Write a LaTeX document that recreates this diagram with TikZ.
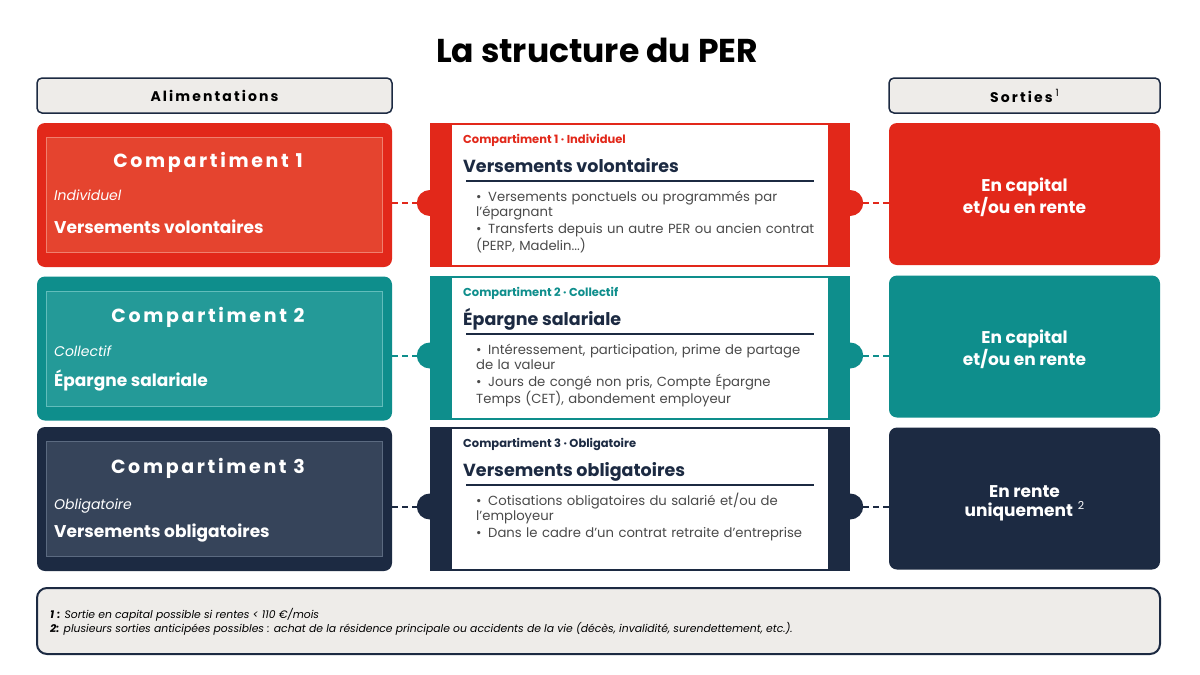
\documentclass[tikz,border=0pt]{standalone}
\usepackage{fontspec}
\setmainfont{Poppins}
\usepackage{xcolor}
\definecolor{perred}{HTML}{E2281A}
\definecolor{perredin}{HTML}{E5442F}
\definecolor{perredln}{HTML}{F0806F}
\definecolor{perteal}{HTML}{0E8E8C}
\definecolor{pertealin}{HTML}{249A98}
\definecolor{pertealln}{HTML}{62BDBB}
\definecolor{pernavy}{HTML}{1C2A42}
\definecolor{pernavyin}{HTML}{36445A}
\definecolor{pernavyln}{HTML}{5B6A80}
\definecolor{pergray}{HTML}{EEECE9}
\definecolor{pertext}{HTML}{4A4A4A}
\tikzset{
  hd/.style={draw=pernavy,line width=1.5pt,fill=pergray,rounded corners=5pt,minimum width=355pt,minimum height=35pt,
    font=\fontsize{14}{16}\selectfont\bfseries\addfontfeature{LetterSpace=15}},
  lbox/.style={rounded corners=8pt,minimum width=355pt,minimum height=144pt},
  ibox/.style={line width=1pt,minimum width=336pt,minimum height=115pt},
  ltitle/.style={anchor=base,text=white,font=\fontsize{19}{22}\selectfont\bfseries\addfontfeature{LetterSpace=14}},
  lsub/.style={anchor=base west,inner sep=0pt,text=white,font=\fontsize{14}{16}\selectfont\itshape},
  lmain/.style={anchor=base west,inner sep=0pt,text=white,font=\fontsize{17}{20}\selectfont\bfseries},
  card/.style={minimum width=420pt,minimum height=144pt},
  cin/.style={fill=white,minimum width=376pt,minimum height=140pt},
  bump/.style={circle,minimum size=26pt,inner sep=0pt},
  chead/.style={anchor=base west,inner sep=0pt,font=\fontsize{11.5}{14}\selectfont\bfseries},
  ctitle/.style={anchor=base west,inner sep=0pt,text=pernavy,font=\fontsize{17.5}{22}\selectfont\bfseries},
  crule/.style={draw=pernavy,line width=1.2pt},
  clist/.style={anchor=base west,inner sep=0pt,text width=350pt,text=pertext,font=\fontsize{13.2}{15.2}\selectfont},
  rbox/.style={rounded corners=8pt,minimum width=271pt,minimum height=142pt},
  rtext/.style={text=white,align=center,font=\fontsize{17}{19.5}\selectfont\bfseries},
  lnk/.style={dash pattern=on 6pt off 4pt,line width=2pt}
}
\newcommand{\bul}[1]{\par\noindent\hangindent=12pt\hangafter=1\makebox[12pt][l]{\textbullet}#1}

\begin{document}
\begin{tikzpicture}[x=1pt,y=-1pt]
\useasboundingbox[fill=white] (0,0) rectangle (1200,675);
\node[font=\fontsize{33}{38}\selectfont\bfseries] (title) at (597,50) {La structure du PER};

% headers
\node[hd] (alim) at (214.5,95.5) {Alimentations};
\node[hd,minimum width=271pt] (sort) at (1024.5,95.5) {Sorties\hspace{3pt}\raisebox{6pt}{\addfontfeature{LetterSpace=0}\fontsize{10}{10}\selectfont\mdseries 1}};

% row 1
\node[lbox,fill=perred] (in1) at (214.5,195) {};
\node[ibox,fill=perredin,draw=perredln] (in1i) at (in1) {};
\node[ltitle] (in1t) at (208,167) {Compartiment 1};
\node[lsub] (in1s) at (54,200) {Individuel};
\node[lmain] (in1m) at (54,233) {Versements volontaires};

\node[card,fill=perred] (card1) at (640,195) {};
\node[cin] (card1w) at (card1) {};
\node[bump,fill=perred] (b1l) at ([yshift=-8pt]card1.west) {};
\node[bump,fill=perred] (b1r) at ([yshift=-8pt]card1.east) {};
\node[chead,text=perred] (card1h) at (463,143) {Compartiment 1 · Individuel};
\node[ctitle] (card1t) at (463,172) {Versements volontaires};
\draw[crule] (466,181) -- (814,181);
\node[clist] (card1l) at (476,185) {\setlength{\parskip}{1.5pt}%
  \bul{Versements ponctuels ou programmés par\\l'épargnant}
  \bul{Transferts depuis un autre PER ou ancien contrat\\(PERP, Madelin...)}};

\node[rbox,fill=perred] (out1) at (1024.5,194) {};
\node[rtext] (out1t) at ([yshift=-3pt]out1.center) {En capital\\et/ou en rente};
\draw[lnk,draw=perred] (in1.east |- b1l) -- (b1l.west);
\draw[lnk,draw=perred] (b1r.east) -- (out1.west |- b1r);

% row 2
\node[lbox,fill=perteal] (in2) at (214.5,348.5) {};
\node[ibox,fill=pertealin,draw=pertealln] (in2i) at (in2) {};
\node[ltitle] (in2t) at (208,322) {Compartiment 2};
\node[lsub] (in2s) at (54,356) {Collectif};
\node[lmain] (in2m) at (54,386) {Épargne salariale};

\node[card,fill=perteal] (card2) at (640,347.5) {};
\node[cin] (card2w) at (card2) {};
\node[bump,fill=perteal] (b2l) at ([yshift=-8pt]card2.west) {};
\node[bump,fill=perteal] (b2r) at ([yshift=-8pt]card2.east) {};
\node[chead,text=perteal] (card2h) at (463,296) {Compartiment 2 · Collectif};
\node[ctitle] (card2t) at (463,325) {Épargne salariale};
\draw[crule] (466,334) -- (814,334);
\node[clist] (card2l) at (476,338) {\setlength{\parskip}{1.5pt}%
  \bul{Intéressement, participation, prime de partage\\de la valeur}
  \bul{Jours de congé non pris, Compte Épargne\\Temps (CET), abondement employeur}};

\node[rbox,fill=perteal] (out2) at (1024.5,346.5) {};
\node[rtext] (out2t) at ([yshift=-3pt]out2.center) {En capital\\et/ou en rente};
\draw[lnk,draw=perteal] (in2.east |- b2l) -- (b2l.west);
\draw[lnk,draw=perteal] (b2r.east) -- (out2.west |- b2r);

% row 3
\node[lbox,fill=pernavy] (in3) at (214.5,499) {};
\node[ibox,fill=pernavyin,draw=pernavyln] (in3i) at (in3) {};
\node[ltitle] (in3t) at (208,473) {Compartiment 3};
\node[lsub] (in3s) at (54,509) {Obligatoire};
\node[lmain] (in3m) at (54,537) {Versements obligatoires};

\node[card,fill=pernavy] (card3) at (640,498.5) {};
\node[cin] (card3w) at (card3) {};
\node[bump,fill=pernavy] (b3l) at ([yshift=-8pt]card3.west) {};
\node[bump,fill=pernavy] (b3r) at ([yshift=-8pt]card3.east) {};
\node[chead,text=pernavy] (card3h) at (463,447) {Compartiment 3 · Obligatoire};
\node[ctitle] (card3t) at (463,476) {Versements obligatoires};
\draw[crule] (466,485) -- (814,485);
\node[clist] (card3l) at (476,489) {\setlength{\parskip}{1.5pt}%
  \bul{Cotisations obligatoires du salarié et/ou de\\l'employeur}
  \bul{Dans le cadre d'un contrat retraite d'entreprise}};

\node[rbox,fill=pernavy] (out3) at (1024.5,498.5) {};
\node[rtext] (out3t) at ([yshift=-5pt]out3.center) {En rente\\uniquement\hspace{5pt}\raisebox{7pt}{\fontsize{11}{11}\selectfont\mdseries 2}};
\draw[lnk,draw=pernavy] (in3.east |- b3l) -- (b3l.west);
\draw[lnk,draw=pernavy] (b3r.east) -- (out3.west |- b3r);

% notes
\node[draw=pernavy,line width=2pt,fill=pergray,rounded corners=10pt,minimum width=1123pt,minimum height=66pt] (notes) at (598.5,621) {};
\node[anchor=base west,align=left,inner sep=0pt,font=\fontsize{10.8}{14}\selectfont\itshape] (notest) at (50,632)
  {\textbf{1\hspace{3pt}:} Sortie en capital possible si rentes < 110 €/mois\\
   \textbf{2:} plusieurs sorties anticipées possibles : achat de la résidence principale ou accidents de la vie (décès, invalidité, surendettement, etc.).};
\end{tikzpicture}
\end{document}
